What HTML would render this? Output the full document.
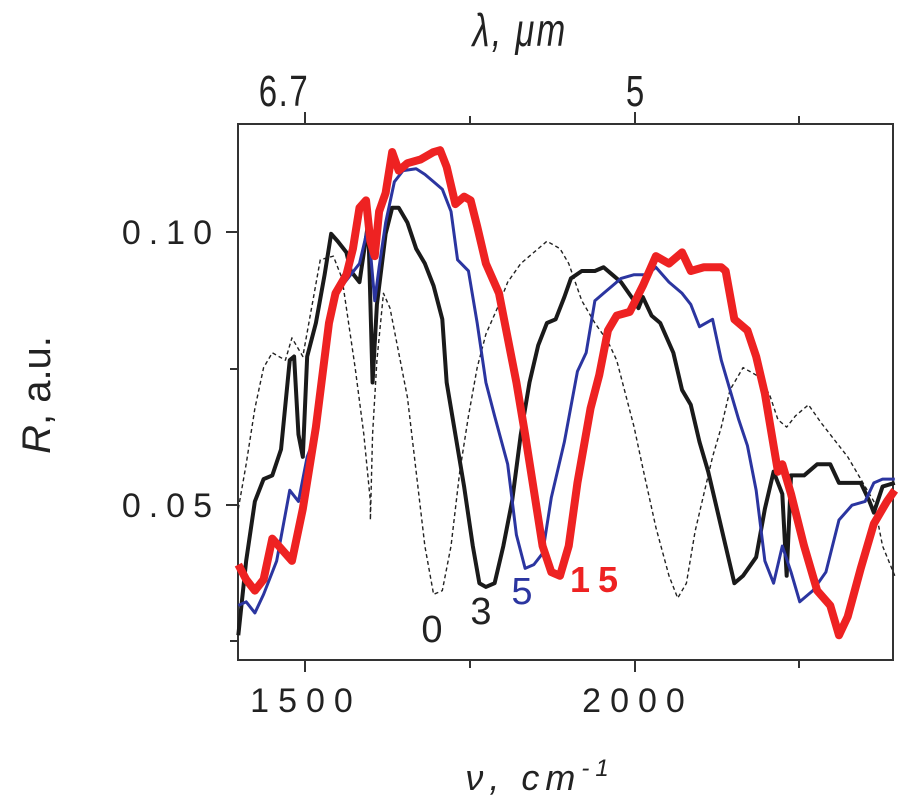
<!DOCTYPE html>
<html><head><meta charset="utf-8"><style>
html,body{margin:0;padding:0;background:#fff;width:900px;height:800px;overflow:hidden}
svg{display:block}
text{font-family:"Liberation Sans",sans-serif;fill:#222}
</style></head><body>
<svg width="900" height="800" viewBox="0 0 900 800">
<rect x="238" y="124" width="655" height="536" fill="none" stroke="#333" stroke-width="2"/>
<g stroke="#333" stroke-width="2">
<line x1="305" y1="124" x2="305" y2="112"/><line x1="470" y1="124" x2="470" y2="116"/><line x1="635" y1="124" x2="635" y2="112"/><line x1="799" y1="124" x2="799" y2="116"/>
<line x1="305" y1="660" x2="305" y2="672"/><line x1="470" y1="660" x2="470" y2="668"/><line x1="635" y1="660" x2="635" y2="672"/><line x1="799" y1="660" x2="799" y2="668"/>
<line x1="238" y1="232" x2="226" y2="232"/><line x1="238" y1="369" x2="230" y2="369"/><line x1="238" y1="505" x2="226" y2="505"/><line x1="238" y1="641" x2="230" y2="641"/>
</g>
<text x="220" y="244" font-size="34" text-anchor="end" letter-spacing="8">0.10</text>
<text x="220" y="517" font-size="34" text-anchor="end" letter-spacing="8">0.05</text>
<text x="306" y="712" font-size="34" text-anchor="middle" letter-spacing="9">1500</text>
<text x="638" y="712" font-size="34" text-anchor="middle" letter-spacing="9">2000</text>
<text x="284" y="106" font-size="44" text-anchor="middle" letter-spacing="2" transform="translate(284 0) scale(0.75 1) translate(-284 0)">6.7</text>
<text x="635" y="106" font-size="44" text-anchor="middle" transform="translate(635 0) scale(0.75 1) translate(-635 0)">5</text>
<text x="520" y="46" font-size="46" font-style="italic" text-anchor="middle" letter-spacing="3" transform="translate(520 0) scale(0.75 1) translate(-520 0)">λ, μm</text>
<text x="540" y="790" font-size="36" font-style="italic" text-anchor="middle" letter-spacing="6">ν, cm<tspan font-size="24" dy="-14">-1</tspan></text>
<text x="0" y="0" font-size="40" text-anchor="middle" transform="translate(50 395) rotate(-90)"><tspan font-style="italic">R</tspan>, a.u.</text>
<g transform="translate(220 100) scale(0.4359 0.3717)" fill="none" stroke-linejoin="round">
<polyline vector-effect="non-scaling-stroke" stroke="#222" stroke-width="1.4" stroke-dasharray="4 3" points="42,1100 60,980 80,830 100,720 120,680 150,700 165,640 190,690 210,560 230,430 260,420 280,480 290,560 310,720 330,900 345,1080 345,1130 350,900 360,700 375,520 390,560 410,680 430,800 450,1000 470,1200 490,1330 510,1320 530,1200 550,1000 570,850 590,720 610,630 640,550 660,490 690,440 720,410 750,380 780,400 800,440 830,540 860,600 890,650 910,700 930,790 950,880 970,990 1000,1150 1030,1280 1050,1340 1070,1300 1090,1160 1110,1060 1130,960 1150,880 1170,780 1200,720 1230,740 1260,790 1280,860 1300,880 1320,850 1350,820 1380,870 1420,930 1440,960 1470,1020 1500,1080 1520,1200 1548,1280"/>
<polyline vector-effect="non-scaling-stroke" stroke="#1a1a1a" stroke-width="4" points="42,1440 60,1240 80,1080 100,1020 120,1010 140,940 160,700 170,690 180,900 190,960 200,690 220,600 240,470 255,360 270,380 290,410 300,460 320,490 340,330 350,760 360,550 380,360 395,290 410,290 430,330 450,400 470,440 490,500 510,590 520,760 540,900 560,1040 580,1200 595,1300 610,1310 630,1300 650,1200 670,1080 690,900 710,760 730,660 750,600 770,590 790,530 805,480 830,460 860,460 880,450 900,470 920,490 950,540 960,560 970,530 990,580 1010,600 1040,680 1060,780 1080,820 1100,920 1120,1000 1140,1100 1160,1200 1180,1300 1200,1280 1230,1230 1250,1100 1270,1000 1290,1060 1300,1280 1310,1010 1340,1010 1370,980 1400,980 1420,1030 1440,1030 1470,1030 1490,1080 1500,1110 1520,1040 1548,1030"/>
<polyline vector-effect="non-scaling-stroke" stroke="#2b35a0" stroke-width="3" points="42,1360 60,1350 80,1380 100,1330 130,1240 160,1050 180,1080 200,960 220,900 240,680 260,540 280,500 300,470 320,440 340,340 355,540 365,450 380,330 400,220 420,190 450,185 470,200 490,220 510,240 530,300 545,430 570,460 590,600 610,760 630,850 660,980 680,1170 700,1260 720,1250 740,1220 760,1070 790,920 820,730 840,680 860,540 880,520 900,500 920,480 950,470 980,470 1000,450 1030,490 1060,520 1080,550 1100,610 1130,590 1150,700 1170,780 1190,860 1210,930 1230,1050 1250,1240 1270,1300 1290,1200 1310,1270 1330,1350 1360,1320 1390,1270 1420,1130 1450,1090 1480,1080 1500,1030 1520,1020 1548,1020"/>
<polyline vector-effect="non-scaling-stroke" stroke="#ee2222" stroke-width="8" points="42,1250 60,1290 80,1320 100,1290 120,1180 150,1220 165,1240 190,1100 220,880 250,600 265,520 290,470 305,400 320,290 335,270 345,380 355,420 365,300 380,250 395,140 410,190 430,170 460,160 490,140 505,135 520,180 540,280 560,260 575,270 590,340 610,440 640,520 660,640 680,760 700,900 720,1050 740,1200 760,1270 780,1280 800,1200 820,1030 850,830 870,740 890,620 910,580 940,570 970,500 1000,420 1030,440 1060,410 1080,460 1110,450 1150,450 1160,460 1180,590 1210,620 1230,690 1250,790 1270,930 1280,1000 1290,980 1310,1060 1340,1200 1370,1320 1400,1360 1420,1440 1440,1390 1470,1260 1500,1140 1530,1080 1548,1050"/>
</g>
<text x="432" y="642" font-size="38" text-anchor="middle">0</text>
<text x="481" y="624" font-size="38" text-anchor="middle">3</text>
<text x="522" y="604" font-size="38" text-anchor="middle" style="fill:#2b35a0">5</text>
<text x="598" y="592" font-size="36" font-weight="bold" text-anchor="middle" letter-spacing="8" style="fill:#ee2222">15</text>
</svg>
</body></html>
